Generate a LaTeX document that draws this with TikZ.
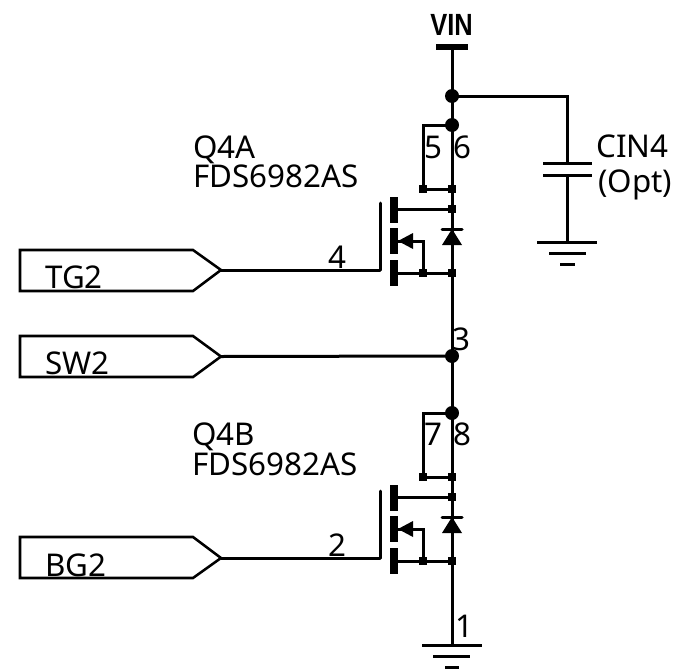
\documentclass[tikz,border=0pt]{standalone}
\usepackage{fontspec}
\setmainfont{Noto Sans}
\newfontfamily\vinfont{Liberation Sans}
\tikzset{
  wire/.style={line width=2.25pt,line cap=round,line join=miter},
  plainwire/.style={line width=2.25pt,line cap=butt},
  dotnode/.style={circle,fill=black,inner sep=0pt,minimum size=10.5pt},
  sq/.style={rectangle,fill=black,inner sep=0pt,minimum size=6.4pt},
  lbl/.style={inner sep=0pt,font=\fontsize{23.5}{23.5}\selectfont,anchor=base west},
  port/.style={line width=1.9pt,draw,line join=miter},
}
\newcommand{\fet}[2]{%
\begin{scope}[yshift=#1]
  \node[dotnode] (j#2) at (452,125) {};
  \node[sq] (a#2) at (423,189) {};
  \node[sq] (b#2) at (452,189) {};
  \node[sq] (c#2) at (452,209) {};
  \node[sq] (d#2) at (423,273) {};
  \node[sq] (e#2) at (452,273) {};
  \coordinate (ck#2) at (423,125);
  \coordinate (dr#2) at (394,209);
  \coordinate (sr#2) at (394,273);
  \draw[wire] (j#2.center) -- (ck#2) -- (a#2.center) -- (b#2.center);
  \draw[wire] (j#2.center) -- (e#2.center);
  \draw[wire] (dr#2) -- (c#2.center);
  \draw[wire] (sr#2) -- (e#2.center);
  \fill (398,241) -- (413,233) -- (413,249) -- cycle;
  \draw[wire] (398,241) -- (423,241) -- (d#2.center);
  \fill (390,197) rectangle (398,223);
  \fill (390,228) rectangle (398,254);
  \fill (390,260) rectangle (398,286);
  \fill (452,229) -- (462,245) -- (442,245) -- cycle;
  \draw[wire] (442,229) -- (462,229);
  \draw[wire] (380,203) -- (380,270);
\end{scope}}
\begin{document}
\begin{tikzpicture}[x=0.75pt,y=-0.75pt]
\useasboundingbox (0,0) rectangle (681,671);
% VIN
\node[inner sep=0pt,font=\vinfont\bfseries\fontsize{23}{23}\selectfont,xscale=.83,anchor=base] (vin) at (451.5,36) {VIN};
\coordinate (vtop) at (452,47);
\draw[line width=3.9pt] (436,47) -- (468,47);
\node[dotnode] (jv) at (452,96) {};
\coordinate (cr) at (567,96);
\coordinate (cp1) at (567,163);
\coordinate (cp2) at (567,175);
\coordinate (cg) at (567,242);
\draw[wire] (vtop) -- (jv.center) -- (452,125);
\draw[plainwire] (jv.center) -- (cr) -- (cp1);
\draw[plainwire] (cp2) -- (cg);
\draw[plainwire] (543,163) -- (592,163);
\draw[plainwire] (543,175) -- (592,175);
\draw[plainwire] (537,242) -- (597,242);
\draw[plainwire] (549,253) -- (586,253);
\draw[plainwire] (560,264) -- (575,264);
\fet{0}{A}
\fet{-216pt}{B}
\node[dotnode] (jsw) at (452,356) {};
\draw[wire] (452,273) -- (jsw.center) -- (452,413);
\coordinate (gnd) at (452,645);
\draw[wire] (452,561) -- (gnd);
\draw[plainwire] (422,645) -- (482,645);
\draw[plainwire] (433,656) -- (470,656);
\draw[plainwire] (445,667) -- (459,667);
% ports
\draw[port] (20,250) -- (193,250) -- (221,270) -- (193,291) -- (20,291) -- cycle;
\draw[port] (20,336) -- (193,336) -- (221,356.5) -- (193,377) -- (20,377) -- cycle;
\draw[port] (20,537) -- (193,537) -- (221,558) -- (193,578) -- (20,578) -- cycle;
\coordinate (tg) at (221,270); \coordinate (sw) at (221,356.5); \coordinate (bg) at (221,558);
\draw[wire] (tg) -- (380,270);
\draw[wire] (sw) -- (jsw.center);
\draw[wire] (bg) -- (380,558);
% labels
\node[lbl] at (45,288) {TG2};
\node[lbl] at (45,374) {SW2};
\node[lbl] at (45,576) {BG2};
\node[lbl] at (193,158) {Q4A};
\node[lbl] at (193,187) {FDS6982AS};
\node[lbl] at (192,445) {Q4B};
\node[lbl] at (192,475) {FDS6982AS};
\node[lbl] at (424,158) {5};
\node[lbl] at (453,158) {6};
\node[lbl] at (328,268) {4};
\node[lbl] at (452,350) {3};
\node[lbl] at (424,445) {7};
\node[lbl] at (453,445) {8};
\node[lbl] at (328,556) {2};
\node[lbl] at (455,637) {1};
\node[lbl] at (596,157) {CIN4};
\node[lbl] at (598,192) {(Opt)};
\end{tikzpicture}
\end{document}
